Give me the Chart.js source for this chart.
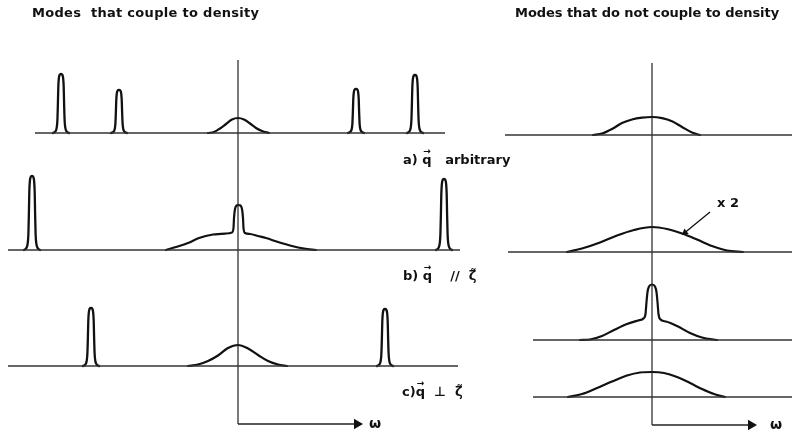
<!DOCTYPE html>
<html>
<head>
<meta charset="utf-8">
<script src="https://cdn.jsdelivr.net/npm/chart.js@4.4.1/dist/chart.umd.min.js"></script>
<style>
  html, body { margin: 0; padding: 0; background: #fff; }
  #wrap { position: relative; width: 792px; height: 433px; overflow: hidden; }
  #plot { position: absolute; left: 0; top: 0; }
  .lbl {
    position: absolute;
    font-family: "DejaVu Sans", sans-serif;
    font-weight: bold;
    color: #111;
    white-space: pre;
    line-height: 1;
  }
  .vec { position: relative; display: inline-block; }
  .vec .arr {
    position: absolute; left: 1px; top: -6px;
    font-size: 9px; font-weight: bold;
  }
</style>
</head>
<body>
<div id="wrap">
  <canvas id="plot" width="792" height="433"></canvas>
  <div class="lbl" style="left:32px; top:6px; font-size:13px; letter-spacing:0.3px;">Modes  that couple to density</div>
  <div class="lbl" style="left:515px; top:6px; font-size:13px; letter-spacing:-0.05px;">Modes that do not couple to density</div>
  <div class="lbl" style="left:403px; top:153px; font-size:13px;">a) <span class="vec">q<span class="arr">→</span></span>   arbitrary</div>
  <div class="lbl" style="left:403px; top:269px; font-size:13px;">b) <span class="vec">q<span class="arr">→</span></span>    //  ζ̃</div>
  <div class="lbl" style="left:402px; top:385px; font-size:13px;">c)<span class="vec">q<span class="arr">→</span></span>  ⊥  ζ̃</div>
  <div class="lbl" style="left:717px; top:196px; font-size:13px;">x 2</div>
  <div class="lbl" style="left:369px; top:416px; font-size:14px;">ω</div>
  <div class="lbl" style="left:770px; top:417px; font-size:14px;">ω</div>
</div>
<script>
// ---- data (omega in arbitrary units, intensity above each row's baseline) ----

// left panel: modes that couple to density
const leftRowLevels = [300, 183, 67];            // rows a, b, c
const leftRowSpan = [[-203, 207], [-230, 222], [-230, 220]];

// sharp (propagating) peaks in the left panel
const sharpRow = [0, 0, 0, 0, 1, 1, 2, 2];
const sharpCentre = [-177, -119, 118, 177, -206, 206, -147, 147];
const sharpHeight = [59, 43, 44, 58, 74, 71, 58, 57];

// line shape of one sharp peak (offset, fraction of height)
const sharpShapeDw = [-8, -5.5, -4.3, -3.6, -3.1, -2.7, -2.2, -1.4, 0, 1.4, 2.2, 2.7, 3.1, 3.6, 4.3, 5.5, 8];
const sharpShapeFrac = [0, 0.03, 0.09, 0.22, 0.5, 0.78, 0.92, 0.985, 1, 0.985, 0.92, 0.78, 0.5, 0.22, 0.09, 0.03, 0];

// central lines of the left panel
const leftCentreA = [[-30, 0], [-24, 1], [-18, 4.5], [-12, 9], [-6, 13.5], [0, 15], [6, 13.5],
  [12, 9.5], [18, 5], [24, 2], [31, 0]];
const leftCentreB = [[-72, 0], [-62, 3], [-50, 7], [-39, 12], [-25, 15.5], [-12, 16.5], [-6, 17.5],
  [-4.5, 22], [-4, 32], [-3, 41], [-1.5, 44.5], [0.5, 45], [2.5, 44.5], [4, 41], [5, 32], [5.5, 22],
  [7, 17], [12, 16], [20, 14], [28, 12], [40, 8], [54, 4], [66, 1.5], [78, 0]];
const leftCentreC = [[-50, 0], [-40, 1.5], [-30, 5], [-20, 10.5], [-10, 18], [0, 21], [10, 17.5],
  [20, 11], [30, 5], [40, 1.5], [49, 0]];

// right panel: modes that do not couple to density
const rightRowLevels = [298, 181, 93, 36];
const rightRowSpan = [[-147, 140], [-144, 140], [-119, 140], [-119, 140]];
const rightCurves = [
  [[-59, 0], [-50, 1.5], [-40, 6], [-30, 12], [-20, 15.5], [-10, 17.3], [0, 18], [10, 16.9],
    [20, 13.8], [30, 8], [40, 2.5], [48, 0]],
  [[-85, 0], [-70, 3.5], [-52, 9.5], [-35, 16.5], [-18, 22], [0, 25], [15, 23], [30, 18.5],
    [45, 12.5], [60, 6], [75, 1.5], [91, 0]],
  [[-72, 0], [-62, 0.5], [-50, 4], [-38, 10], [-25, 16], [-14, 19.5], [-8, 22], [-6.5, 26],
    [-5.5, 38], [-4.5, 48], [-3, 53.5], [0, 55.5], [3, 53.5], [4.5, 48], [5.5, 38], [6.5, 26],
    [8, 21], [14, 18.5], [25, 14], [38, 7], [50, 2.5], [65, 0]],
  [[-84, 0], [-70, 3], [-55, 9], [-40, 15.5], [-25, 21.5], [-12, 24.5], [0, 25], [12, 24],
    [25, 20], [38, 14], [50, 8], [62, 3], [73, 0]]
];

// frequency axes: vertical line at omega = 0, arrow along omega
const leftAxis = { top: 373, bottom: 9, arrowEnd: 119 };
const rightAxis = { top: 370, bottom: 8, arrowEnd: 99 };

// "x 2" pointer onto the second right-hand curve
const timesTwoArrow = [[58, 221], [33, 200.5]];

// ---- build datasets ----
const INK = '#111';
const datasets = [];

function line(points, xAxisID, width, color, extra = {}) {
  return Object.assign({
    data: points.map(p => ({ x: p[0], y: p[1] })),
    xAxisID: xAxisID,
    borderColor: color,
    borderWidth: width,
    pointRadius: 0,
    fill: false,
    tension: 0
  }, extra);
}

function shifted(curve, level) {
  return curve.map(p => [p[0], p[1] + level]);
}

const smooth = { cubicInterpolationMode: 'monotone', borderJoinStyle: 'round', borderCapStyle: 'round' };

// baselines
leftRowLevels.forEach((lv, i) => {
  datasets.push(line([[leftRowSpan[i][0], lv], [leftRowSpan[i][1], lv]], 'xl', 1.3, '#333'));
});
rightRowLevels.forEach((lv, i) => {
  datasets.push(line([[rightRowSpan[i][0], lv], [rightRowSpan[i][1], lv]], 'xr', 1.3, '#333'));
});

// axes with arrows
[[leftAxis, 'xl'], [rightAxis, 'xr']].forEach(([ax, id]) => {
  datasets.push(line([[0, ax.top], [0, ax.bottom]], id, 1.2, '#222'));
  datasets.push(line([[0, ax.bottom], [ax.arrowEnd, ax.bottom]], id, 1.4, '#222', {
    pointRadius: [0, 6],
    pointStyle: 'triangle',
    rotation: 90,
    pointBackgroundColor: '#111',
    pointBorderColor: '#111',
    pointBorderWidth: 0
  }));
});

// sharp peaks
sharpCentre.forEach((c, k) => {
  const lv = leftRowLevels[sharpRow[k]];
  const pts = sharpShapeDw.map((d, j) => [c + d, lv + sharpShapeFrac[j] * sharpHeight[k]]);
  datasets.push(line(pts, 'xl', 2.3, INK, smooth));
});

// central lines
[leftCentreA, leftCentreB, leftCentreC].forEach((cv, i) => {
  datasets.push(line(shifted(cv, leftRowLevels[i]), 'xl', 2.2, INK, smooth));
});
rightCurves.forEach((cv, i) => {
  datasets.push(line(shifted(cv, rightRowLevels[i]), 'xr', 2.2, INK, smooth));
});

// "x 2" pointer
datasets.push(line(timesTwoArrow, 'xr', 1.3, '#111', {
  pointRadius: [0, 4],
  pointStyle: 'triangle',
  rotation: 231,
  pointBackgroundColor: '#111',
  pointBorderColor: '#111',
  pointBorderWidth: 0
}));

new Chart(document.getElementById('plot').getContext('2d'), {
  type: 'line',
  data: { datasets: datasets },
  options: {
    responsive: false,
    animation: false,
    devicePixelRatio: 1,
    layout: { padding: 0, autoPadding: false },
    plugins: { legend: { display: false }, tooltip: { enabled: false } },
    scales: {
      xl: { type: 'linear', axis: 'x', min: -238, max: 554, display: false },
      xr: { type: 'linear', axis: 'x', min: -652, max: 140, display: false },
      y: { type: 'linear', min: 0, max: 433, display: false }
    }
  }
});
</script>
</body>
</html>
